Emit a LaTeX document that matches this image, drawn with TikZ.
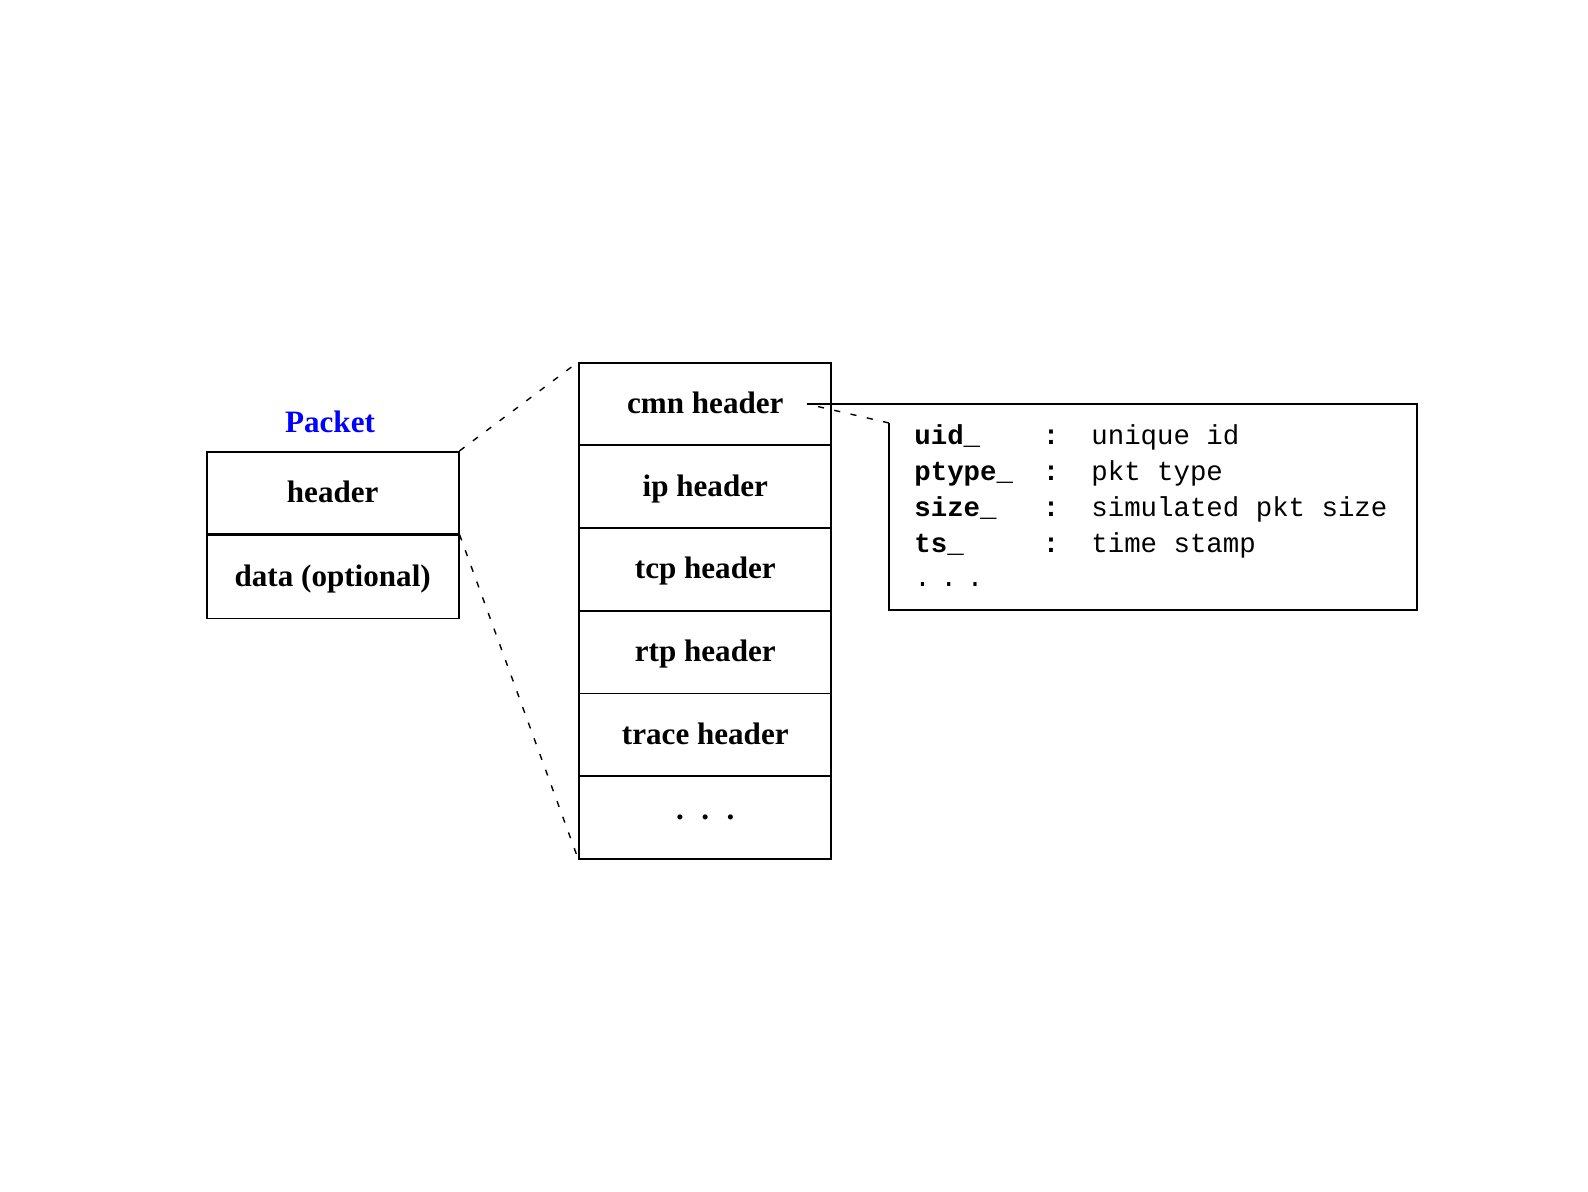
\documentclass[tikz,border=0pt]{standalone}
\usepackage{fontspec}
\setmainfont{Liberation Serif}
\setmonofont{Liberation Mono}
\usepackage{xcolor}
\definecolor{packet_blue}{RGB}{0,0,255}
\usepackage{tikz}

\begin{document}
\begin{tikzpicture}[x=0.02cm, y=-0.02cm,
  cell/.style={draw, line width=1pt, minimum width=5.04cm, inner sep=0pt,
    text height=13pt, text depth=2.4pt, font=\fontsize{17.7}{20}\selectfont\bfseries},
  frame/.style={line width=1pt},
  link/.style={line width=0.8pt, dash pattern=on 3.5pt off 6pt},
  field/.style={inner sep=0pt, font=\fontsize{15.6}{18}\selectfont\ttfamily\bfseries},
  desc/.style={inner sep=0pt, font=\fontsize{15.6}{18}\selectfont\ttfamily}]
\useasboundingbox (0,0) rectangle (1588,1191);

% the packet
\node[inner sep=0pt, font=\fontsize{17.7}{20}\selectfont\bfseries, text=packet_blue] (pkt) at (330,422) {Packet};
\node[cell, minimum height=1.64cm] (hdr) at (332.7,492.7) {header};
\node[cell, minimum height=1.66cm, anchor=north] (data) at (hdr.south) {data (optional)};

% the header stack
\foreach \lbl [count=\i] in {cmn header, ip header, tcp header, rtp header, trace header,
    {\raisebox{4pt}{.\hspace{10pt}.\hspace{10pt}.}}}
  \node[cell, minimum height=1.654cm] (s\i) at (705.3, {404+82.7*(\i-1)}) {\lbl};

\draw[link] (hdr.north east) -- (s1.north west);
\draw[link] (data.north east) -- (s6.south west);

% the common header fields
\node[inner sep=0pt, outer sep=0pt, minimum width=10.56cm, minimum height=4.12cm] (info) at (1153,507) {};
\coordinate (tip) at (807,404);
\coordinate (knee) at (889,423);
\draw[frame] (tip) -- (info.north east) -- (info.south east) -- (info.south west) -- (knee);
\draw[link] (knee) -- (tip);

\foreach \fld/\desc [count=\i] in {uid\_/unique id, ptype\_/pkt type, size\_/simulated pkt size, ts\_/time stamp} {
  \node[field, anchor=base west] (f\i) at (914, {444+36*(\i-1)}) {\fld};
  \node[field, anchor=base] (c\i) at (1051, {444+36*(\i-1)}) {:};
  \node[desc, anchor=base west] (d\i) at (1091, {444+36*(\i-1)}) {\desc};
}
\node[desc, anchor=base west] (more) at (914,586) {.\hspace{5.6pt}.\hspace{5.6pt}.};

\end{tikzpicture}
\end{document}
